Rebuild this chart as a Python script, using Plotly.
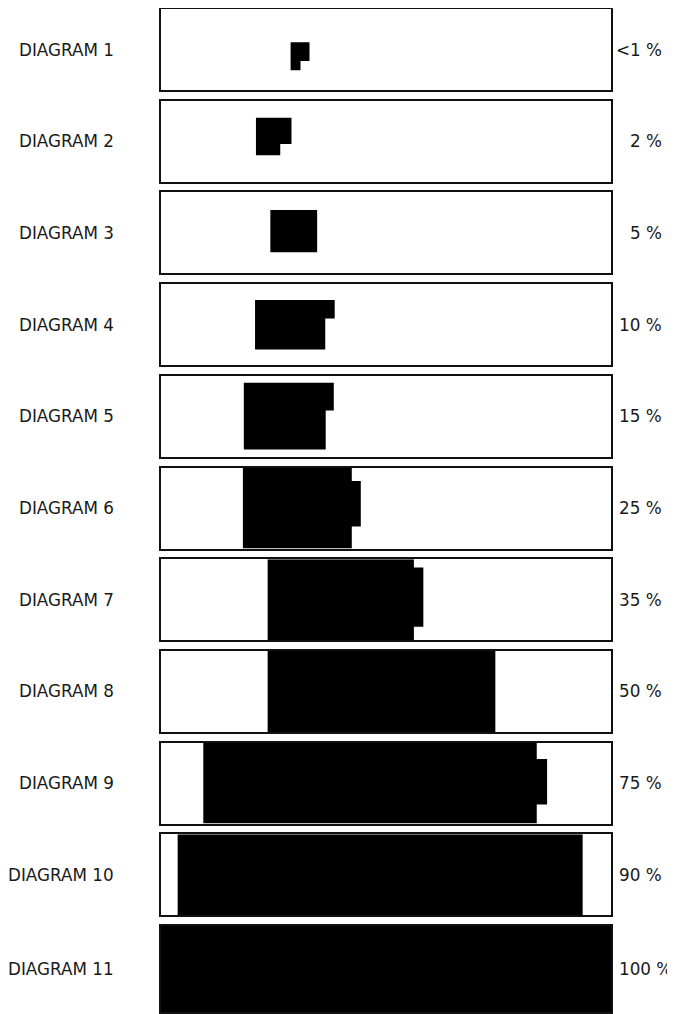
import plotly.graph_objects as go

# ---- data (x and y in percent of each panel's box) ----
diagrams = ["DIAGRAM 1", "DIAGRAM 2", "DIAGRAM 3", "DIAGRAM 4", "DIAGRAM 5", "DIAGRAM 6",
            "DIAGRAM 7", "DIAGRAM 8", "DIAGRAM 9", "DIAGRAM 10", "DIAGRAM 11"]
shares = ["<1 %", "2 %", "5 %", "10 %", "15 %", "25 %", "35 %", "50 %", "75 %", "90 %", "100 %"]

x_left = [28.8, 21.1, 24.3, 20.9, 18.4, 18.2, 23.7, 23.7, 9.4, 3.7, 0.0]
x_right = [31.0, 26.5, 34.7, 36.5, 36.6, 42.4, 56.2, 74.3, 83.5, 93.7, 100.0]
y_bottom = [24.5, 32.5, 26.1, 19.4, 9.0, 0.0, 0.0, 0.0, 0.0, 0.0, 0.0]
y_top = [59.0, 78.8, 78.4, 80.5, 91.3, 100.0, 100.0, 100.0, 100.0, 100.0, 100.0]
ext_right = [33.0, 29.0, None, 38.6, 38.4, 44.4, 58.3, None, 85.8, None, None]
ext_bottom = [35.8, 46.6, None, 57.6, 57.2, 27.1, 16.7, None, 23.6, None, None]
ext_top = [59.0, 78.8, None, 80.5, 91.3, 83.4, 89.8, None, 79.9, None, None]

# ---- layout geometry (pixels in the page; the page body adds an 8px margin) ----
PAGE_OFF = 8
W, H = 675 - PAGE_OFF, 1014 - PAGE_OFF
BOX_L, BOX_R = 161 - PAGE_OFF, 611 - PAGE_OFF
PANEL_TOP0, PITCH, PANEL_H = 9 - PAGE_OFF, 91.7, 81
LABEL_RIGHT = 116 - PAGE_OFF
SHARE_RIGHT = 664 - PAGE_OFF
SHARE_LEFT = 617 - PAGE_OFF
FONT = "DejaVu Sans"
FSIZE = 16.8

fig = go.Figure()
n = len(diagrams)
plot_w = BOX_R - BOX_L

for i in range(n):
    ax = "" if i == 0 else str(i + 1)
    top = PANEL_TOP0 + i * PITCH
    bottom = top + PANEL_H
    if i == n - 1:
        bottom = H - 2
    dom = [1 - bottom / H, 1 - top / H]

    xs = [x_left[i], x_right[i]]
    ys = [y_bottom[i], y_bottom[i]]
    if ext_right[i] is not None:
        xs += [x_right[i], ext_right[i], ext_right[i], x_right[i]]
        ys += [ext_bottom[i], ext_bottom[i], ext_top[i], ext_top[i]]
    xs += [x_right[i], x_left[i], x_left[i]]
    ys += [y_top[i], y_top[i], y_bottom[i]]

    fig.add_trace(go.Scatter(
        x=xs, y=ys, mode="lines", fill="toself", fillcolor="black",
        line=dict(color="black", width=0), hoverinfo="skip", showlegend=False,
        xaxis="x" + ax, yaxis="y" + ax))

    fig.layout["xaxis" + ax] = dict(
        domain=[0, 1], range=[0, 100], showticklabels=False, ticks="",
        showgrid=False, zeroline=False, showline=True, mirror=True,
        linecolor="#111", linewidth=2, anchor="y" + ax, fixedrange=True)
    fig.layout["yaxis" + ax] = dict(
        domain=dom, range=[0, 100], showticklabels=False, ticks="",
        showgrid=False, zeroline=False, showline=True, mirror=True,
        linecolor="#111", linewidth=2, anchor="x" + ax, fixedrange=True)

    fig.add_annotation(
        text=diagrams[i], xref="paper", yref="y" + ax + " domain",
        x=(LABEL_RIGHT - BOX_L) / plot_w, y=0.5, xanchor="right", yanchor="middle",
        showarrow=False, font=dict(family=FONT, size=FSIZE, color="#1a1a1a"))

    if len(shares[i]) > 4:
        sx, anc = (SHARE_LEFT - BOX_L) / plot_w, "left"
    else:
        sx, anc = (SHARE_RIGHT - BOX_L) / plot_w, "right"
    fig.add_annotation(
        text=shares[i], xref="paper", yref="y" + ax + " domain",
        x=sx, y=0.5, xanchor=anc, yanchor="middle",
        showarrow=False, font=dict(family=FONT, size=FSIZE, color="#1a1a1a"))

fig.update_layout(
    width=W, height=H, margin=dict(l=BOX_L, r=W - BOX_R, t=0, b=0),
    paper_bgcolor="white", plot_bgcolor="white", showlegend=False,
    font=dict(family=FONT))

fig.write_html("out.html", config={"displayModeBar": False})
